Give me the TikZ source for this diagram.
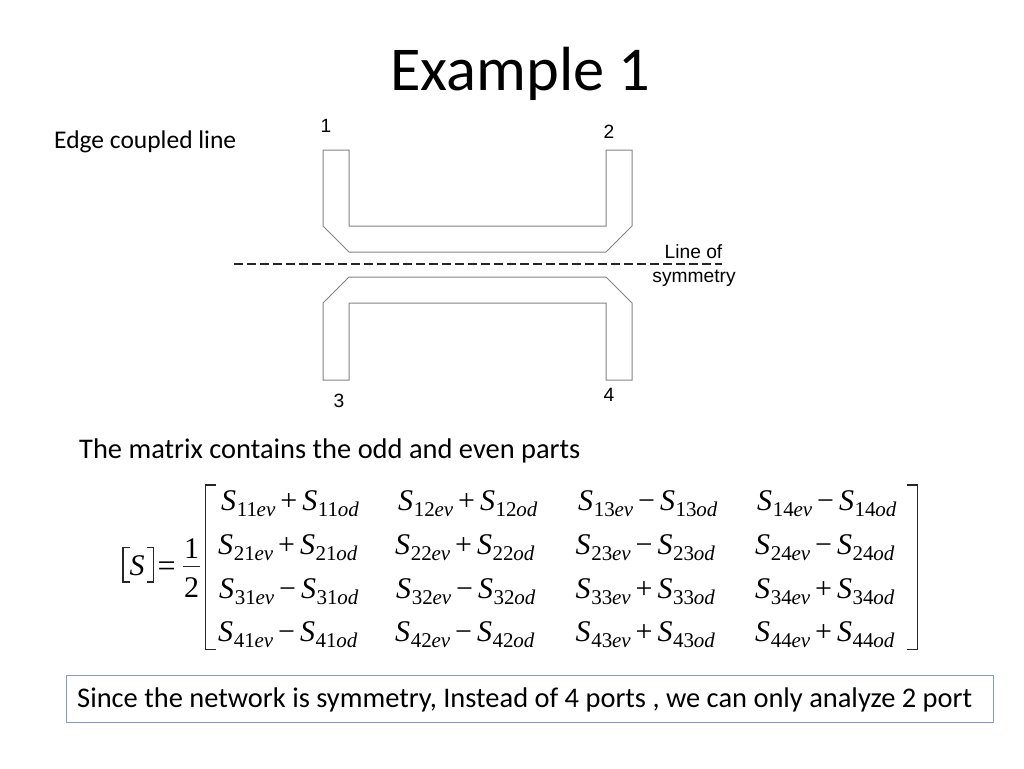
\documentclass[tikz,border=0pt]{standalone}
\usepackage{fontspec}
\setmainfont{Carlito}
\newfontfamily\tnr{Liberation Serif}
\newfontfamily\lab{Liberation Sans}
\definecolor{stripline}{HTML}{858585}
\definecolor{boxline}{HTML}{7F9BC6}
\newcommand{\fs}[1]{\fontsize{#1}{#1}\selectfont}
\newcommand{\Sterm}[2]{{\fs{30}\itshape S}\kern0.6pt\raisebox{-6pt}{\fs{21}#1\kern-0.3pt{\itshape #2}}}
\newcommand{\cellx}[3]{\tnr\Sterm{#1}{ev}\kern5pt\raisebox{0pt}{\fs{30}#2}\kern5pt\Sterm{#3}{od}}
\tikzset{
  stripe/.style={draw=stripline,line width=1pt,line join=miter},
  txt/.style={inner sep=0pt,anchor=base west,text=black},
  portlabel/.style={inner sep=0pt,anchor=base,font=\lab\fs{19.2},text=black},
  cell/.style={inner sep=0pt,anchor=base west,text=black},
  brk/.style={draw=black!85,line width=1.2pt},
}
\begin{document}
\begin{tikzpicture}[x=1pt,y=-1pt]
\useasboundingbox (0,0) rectangle (1024,768);
\fill[white] (0,0) rectangle (1024,768);
\node[inner sep=0pt,anchor=base] (title) at (520.5,90) {\fs{62.4}Example 1};
\node[txt] (edge) at (54,148) {\fs{25.5}Edge coupled line};
\node[portlabel] (p1) at (326,132) {1};
\node[portlabel] (p2) at (609,138) {2};
\node[portlabel] (p3) at (339,407) {3};
\node[portlabel] (p4) at (609,401) {4};
\draw[stripe] (323,150)--(323,226)--(349,252)--(606,252)--(632,226)--(632,150)--(606,150)--(606,226)--(349,226)--(349,150)--cycle;
\draw[stripe] (323,380)--(323,303)--(349,277)--(606,277)--(632,303)--(632,380)--(606,380)--(606,303)--(349,303)--(349,380)--cycle;
\coordinate (dl) at (234,264);
\coordinate (dr) at (722,264);
\draw[black!85,line width=1.1pt,dash pattern=on 9pt off 4pt] (dl)--(dr);
\node[portlabel] (sym1) at (693.5,258) {Line of};
\node[portlabel] (sym2) at (694,282) {symmetry};
\node[txt] (matrixtext) at (79,458) {\fs{28.45}The matrix contains the odd and even parts};
% [S] = 1/2
\draw[brk] (130,547.5)--(123,547.5)--(123,582)--(130,582);
\draw[brk] (147,547.5)--(153.5,547.5)--(153.5,582)--(147,582);
\node[cell] (bigS) at (129.5,575) {\tnr\fs{30}\itshape S};
\node[cell] (eq) at (157.5,576.5) {\tnr\fs{32}=};
\node[inner sep=0pt,anchor=base] (one) at (191.7,558) {\tnr\fs{30}1};
\node[inner sep=0pt,anchor=base] (two) at (191.7,597) {\tnr\fs{30}2};
\draw[black!85,line width=1pt] (182.7,566.7)--(200,566.7);
\draw[brk] (216,485)--(205.5,485)--(205.5,649.5)--(216,649.5);
\draw[brk] (907,485)--(917.5,485)--(917.5,649.5)--(907,649.5);
% matrix cells
\node[cell] (c11) at (221,510) {\cellx{11}{+}{11}};
\node[cell] (c12) at (398,510) {\cellx{12}{+}{12}};
\node[cell] (c13) at (578,510) {\cellx{13}{−}{13}};
\node[cell] (c14) at (757,510) {\cellx{14}{−}{14}};
\node[cell] (c21) at (218,554) {\cellx{21}{+}{21}};
\node[cell] (c22) at (395,554) {\cellx{22}{+}{22}};
\node[cell] (c23) at (575.5,554) {\cellx{23}{−}{23}};
\node[cell] (c24) at (755,554) {\cellx{24}{−}{24}};
\node[cell] (c31) at (219,598) {\cellx{31}{−}{31}};
\node[cell] (c32) at (396,598) {\cellx{32}{−}{32}};
\node[cell] (c33) at (575.5,598) {\cellx{33}{+}{33}};
\node[cell] (c34) at (755,598) {\cellx{34}{+}{34}};
\node[cell] (c41) at (218,641) {\cellx{41}{−}{41}};
\node[cell] (c42) at (395,641) {\cellx{42}{−}{42}};
\node[cell] (c43) at (575.5,641) {\cellx{43}{+}{43}};
\node[cell] (c44) at (755,641) {\cellx{44}{+}{44}};
% bottom box
\draw[boxline,line width=1pt] (66.5,675.5) rectangle (993.5,722);
\node[txt] (note) at (77,707) {\fs{28.45}Since the network is symmetry, Instead of 4 ports , we can only analyze 2 port};
\end{tikzpicture}
\end{document}
